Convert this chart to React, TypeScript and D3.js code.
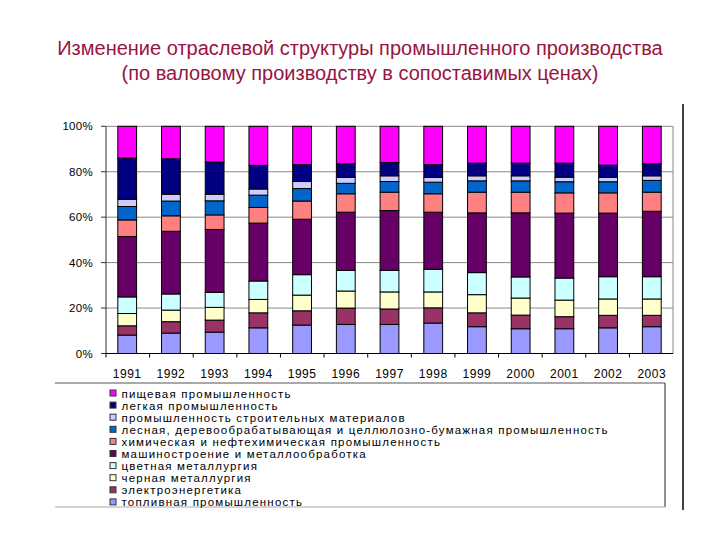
import React from 'react';
import * as d3 from 'd3';

const years = ['1991', '1992', '1993', '1994', '1995', '1996', '1997', '1998', '1999', '2000', '2001', '2002', '2003'];

// bottom-up stack order
const fuel = [8.1, 9.0, 9.4, 11.3, 12.5, 12.8, 12.8, 13.4, 11.8, 10.9, 10.9, 11.3, 11.8];
const power = [4.1, 5.0, 5.3, 6.6, 6.3, 7.2, 6.8, 6.7, 6.1, 6.0, 5.3, 5.5, 5.0];
const ferrous = [5.4, 5.1, 5.6, 5.9, 6.9, 7.5, 7.5, 7.0, 8.0, 7.5, 7.3, 7.2, 7.2];
const nonferrous = [7.3, 7.1, 6.6, 8.1, 9.0, 9.1, 9.5, 10.0, 9.7, 9.3, 9.7, 9.8, 9.8];
const machinery = [26.6, 27.6, 27.7, 25.5, 24.4, 25.6, 26.3, 25.1, 26.3, 28.2, 28.6, 28.0, 28.8];
const chemical = [7.3, 6.8, 6.4, 6.9, 8.0, 8.1, 8.1, 8.1, 9.1, 9.1, 8.9, 8.9, 8.4];
const forestry = [5.9, 6.5, 6.2, 5.4, 5.5, 4.6, 4.7, 5.1, 5.0, 5.0, 4.9, 4.9, 5.2];
const construction = [3.2, 3.0, 2.9, 2.7, 3.1, 2.6, 2.5, 2.1, 2.2, 2.2, 2.0, 1.9, 2.0];
const light = [18.1, 15.6, 14.2, 10.4, 7.4, 6.0, 5.9, 5.6, 5.6, 5.6, 6.2, 5.4, 5.3];
const food = [14.0, 14.3, 15.7, 17.2, 16.9, 16.5, 15.9, 16.9, 16.2, 16.2, 16.2, 17.1, 16.5];

const seriesKeys = ['fuel', 'power', 'ferrous', 'nonferrous', 'machinery', 'chemical', 'forestry', 'construction', 'light', 'food'];
const seriesValues = [fuel, power, ferrous, nonferrous, machinery, chemical, forestry, construction, light, food];
const seriesNames = [
  'топливная промышленность',
  'электроэнергетика',
  'черная металлургия',
  'цветная металлургия',
  'машиностроение и металлообработка',
  'химическая и нефтехимическая промышленность',
  'лесная, деревообрабатывающая и целлюлозно-бумажная промышленность',
  'промышленность строительных материалов',
  'легкая промышленность',
  'пищевая промышленность',
];
const seriesColors = ['#9999FF', '#993366', '#FFFFCC', '#CCFFFF', '#660066', '#FF8080', '#0066CC', '#CCCCFF', '#000080', '#FF00FF'];
const yTicks = [0, 0.2, 0.4, 0.6, 0.8, 1];

const titleLines = [
  'Изменение отраслевой структуры промышленного производства',
  '(по валовому производству в сопоставимых ценах)',
];

export default function App() {
  const left = 106, right = 673, top = 126.3, bottom = 353.5;
  const x = d3.scaleBand().domain(years).range([left, right]).paddingInner(0.57).paddingOuter(0.27);
  const y = d3.scaleLinear().domain([0, 1]).range([bottom, top]);
  const table = years.map((yr, i) => {
    const row: any = { year: yr };
    seriesKeys.forEach((k, j) => { row[k] = seriesValues[j][i]; });
    return row;
  });
  const stacked = d3.stack().keys(seriesKeys).offset(d3.stackOffsetExpand)(table);
  const fmt = d3.format('.0%');
  const band = (right - left) / years.length;
  const font = 'Liberation Sans, Arial, sans-serif';
  const legendX = 110, legendY0 = 393.5, legendStep = 12.1;

  return (
    <svg width={720} height={540} style={{ position: 'absolute', left: 0, top: 0, background: '#fff' }}>
      <rect x={0} y={0} width={720} height={540} fill="#fff" />
      {titleLines.map((t, i) => (
        <text key={i} x={360} y={55 + i * 25} textAnchor="middle" fontFamily={font} fontSize={20} fill="#99143F">{t}</text>
      ))}
      {/* gridlines */}
      {yTicks.map((t) => (
        <line key={t} x1={left} x2={right} y1={y(t)} y2={y(t)} stroke="#8a8a8a" strokeWidth={1} />
      ))}
      <line x1={right} x2={right} y1={top} y2={bottom} stroke="#8a8a8a" />
      {/* y axis */}
      <line x1={left} x2={left} y1={top} y2={bottom} stroke="#333" />
      {yTicks.map((t) => (
        <g key={'yt' + t}>
          <line x1={left - 5} x2={left} y1={y(t)} y2={y(t)} stroke="#333" />
          <text x={left - 13} y={y(t) + 4} textAnchor="end" fontFamily={font} fontSize={11.5} letterSpacing={0.3} fill="#000">{fmt(t)}</text>
        </g>
      ))}
      {/* bars */}
      {stacked.map((s, j) => (
        <g key={s.key} fill={seriesColors[j]}>
          {s.map((d: any, i) => (
            <rect key={i} x={x(years[i])} width={x.bandwidth()} y={y(d[1])} height={y(d[0]) - y(d[1])} stroke="#000" strokeWidth={1} />
          ))}
        </g>
      ))}
      {/* x axis */}
      <line x1={left} x2={right} y1={bottom} y2={bottom} stroke="#000" />
      {years.map((yr, i) => (
        <g key={'xt' + yr}>
          <line x1={left + band * i} x2={left + band * i} y1={bottom} y2={bottom + 4} stroke="#000" />
          <text x={(x(yr) as number) + x.bandwidth() / 2} y={bottom + 24} textAnchor="middle" fontFamily={font} fontSize={12} letterSpacing={0.5} fill="#000">{yr}</text>
        </g>
      ))}
      {/* legend box */}
      <line x1={55} x2={665} y1={383} y2={383} stroke="#555" />
      <line x1={665} x2={665} y1={383} y2={507} stroke="#222" />
      <line x1={55} x2={665} y1={507} y2={507} stroke="#aaa" />
      <line x1={683} x2={683} y1={104} y2={510} stroke="#000" strokeWidth={1.5} />
      {seriesNames.map((n, j) => {
        const k = seriesNames.length - 1 - j;
        const name = seriesNames[k];
        const cy = legendY0 + j * legendStep;
        return (
          <g key={'lg' + k}>
            <rect x={legendX} y={cy - 3.5} width={6} height={6} fill={seriesColors[k]} stroke="#333" strokeWidth={1} />
            <text x={legendX + 11.5} y={cy + 4} fontFamily={font} fontSize={11.5} letterSpacing={1.2} fill="#000">{name}</text>
          </g>
        );
      })}
    </svg>
  );
}
